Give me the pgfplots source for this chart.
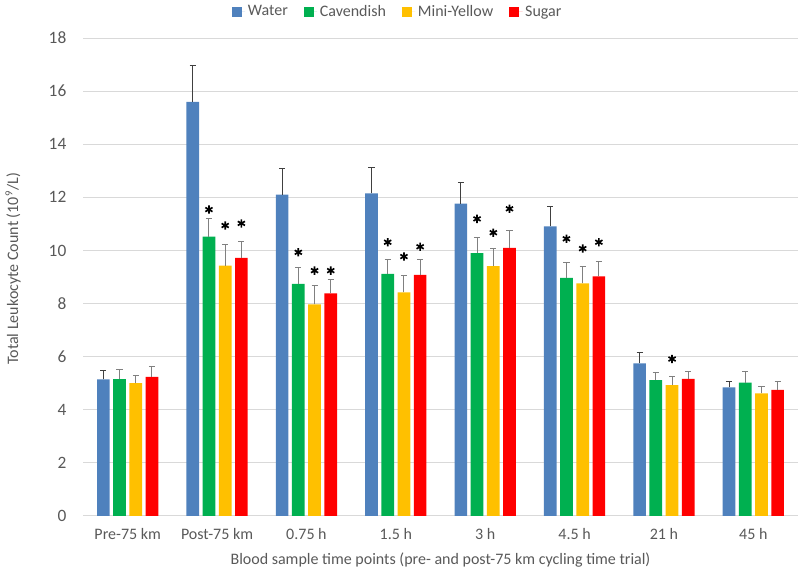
\documentclass[border=0pt]{standalone}
\usepackage{fontspec}
\setmainfont{Carlito}
\usepackage{pgfplots}
\pgfplotsset{compat=1.18}
\usepackage{pgfplotstable}
\usetikzlibrary{calc}
\definecolor{cwater}{HTML}{4F81BD}
\definecolor{ccav}{HTML}{00B050}
\definecolor{cmy}{HTML}{FFC000}
\definecolor{csug}{HTML}{FF0000}
\definecolor{gridgray}{HTML}{D9D9D9}
\definecolor{txt}{HTML}{595959}
\definecolor{errdark}{HTML}{404040}
\definecolor{errlight}{HTML}{808080}

% x = category index (0..7) + offset of the bar within its group
\pgfplotstableread{
x y e
-0.272 5.14 0.35
0.728 15.60 1.36
1.728 12.10 1.00
2.728 12.15 0.97
3.728 11.76 0.80
4.728 10.91 0.75
5.728 5.75 0.40
6.728 4.84 0.23
}\water
\pgfplotstableread{
x y e
-0.091 5.15 0.37
0.909 10.52 0.70
1.909 8.74 0.61
2.909 9.12 0.54
3.909 9.90 0.60
4.909 8.97 0.56
5.909 5.11 0.29
6.909 5.02 0.42
}\cav
\pgfplotstableread{
x y e
0.091 5.00 0.27
1.091 9.43 0.78
2.091 7.97 0.72
3.091 8.42 0.64
4.091 9.41 0.67
5.091 8.76 0.62
6.091 4.93 0.32
7.091 4.62 0.25
}\miniy
\pgfplotstableread{
x y e
0.272 5.24 0.37
1.272 9.72 0.61
2.272 8.38 0.52
3.272 9.08 0.57
4.272 10.10 0.64
5.272 9.02 0.57
6.272 5.16 0.29
7.272 4.75 0.31
}\sugar
% significance asterisks
\pgfplotstableread{
x y
0.909 11.54
1.909 9.93
2.909 10.31
3.909 11.19
4.909 10.44
}\astcav
\pgfplotstableread{
x y
1.091 10.94
2.091 9.24
3.091 9.77
4.091 10.67
5.091 10.07
6.091 5.91
}\astmy
\pgfplotstableread{
x y
1.272 11.02
2.272 9.24
3.272 10.14
4.272 11.57
5.272 10.31
}\astsug

\pgfplotsset{
  myleg/.style={legend image code/.code={\draw[##1,/tikz/.cd,draw=none] (0pt,-3.75pt) rectangle (7.5pt,3.75pt); \path (0pt,0pt) -- (10pt,0pt);}},
  mybar/.style n args={2}{ybar, bar width=0.142, bar shift=0, fill=#1, draw=none, myleg,
    error bars/.cd, y dir=plus, y explicit,
    error bar style={color=#2, line width=0.75pt},
    error mark options={rotate=90, mark size=2.3pt, color=#2, line width=0.75pt}},
  myast/.style={only marks, mark=asterisk, mark size=3.1pt, mark options={line width=1.25pt, black}, forget plot}
}

\begin{document}
\begin{tikzpicture}
\begin{axis}[
  name=ax,
  scale only axis,
  width=536.25pt, height=358.3pt,
  xmin=-0.5, xmax=7.5, ymin=0, ymax=18,
  ytick={0,2,...,18},
  xtick={0,...,7},
  xticklabels={Pre-75 km, Post-75 km, 0.75 h, 1.5 h, 3 h, 4.5 h, 21 h, 45 h},
  ymajorgrids, grid style={color=gridgray, line width=0.75pt},
  axis line style={draw=none}, tick style={draw=none},
  /pgf/number format/assume math mode=true,
  tick label style={text=txt},
  yticklabel style={font=\fontsize{13}{15}\selectfont, xshift=-9pt},
  xticklabel style={font=\fontsize{12}{14}\selectfont, yshift=-6pt},
  xlabel={Blood sample time points (pre- and post-75 km cycling time trial)},
  ylabel={Total Leukocyte Count (10\textsuperscript{9}/L)},
  label style={font=\fontsize{12}{14}\selectfont, text=txt},
  xlabel style={at={(axis description cs:0.5,0)}, anchor=center, yshift=-33pt},
  ylabel style={at={(axis description cs:-0.0979,0.517)}, anchor=center},
  legend columns=4,
  legend style={at={(axis description cs:0.4406,1)}, anchor=center, yshift=19.7pt, draw=none, fill=none,
    font=\fontsize{12}{14}\selectfont, text=txt,
    /tikz/every even column/.append style={column sep=10pt}},
  clip=false,
]
\addplot[mybar={cwater}{errdark}] table[x=x, y=y, y error=e]{\water};
\addlegendentry{Water}
\addplot[mybar={ccav}{errlight}] table[x=x, y=y, y error=e]{\cav};
\addlegendentry{Cavendish}
\addplot[mybar={cmy}{errlight}] table[x=x, y=y, y error=e]{\miniy};
\addlegendentry{Mini-Yellow}
\addplot[mybar={csug}{errlight}] table[x=x, y=y, y error=e]{\sugar};
\addlegendentry{Sugar}
\addplot[myast] table[x=x, y=y]{\astcav};
\addplot[myast] table[x=x, y=y]{\astmy};
\addplot[myast] table[x=x, y=y]{\astsug};
\end{axis}
\pgfresetboundingbox
\path ($(ax.south west)+(-62.25pt,-40.7pt)$) rectangle ($(ax.north east)+(1.5pt,28.6pt)$);
\end{tikzpicture}
\end{document}
